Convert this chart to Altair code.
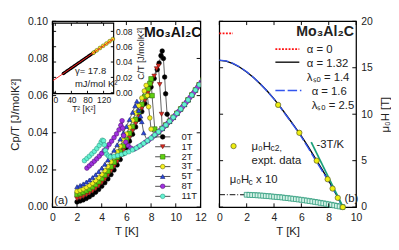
import altair as alt
import pandas as pd

# ---------------- panel (a): Cp/T vs T ----------------
FIELDS = ["0T", "1T", "2T", "3T", "5T", "8T", "11T"]
FILLS = ["#000000", "#e02a20", "#5fd010", "#f4f020", "#2a48e0", "#a030e0", "#64f2d2"]
STROKES = ["#000000", "#6a1410", "#2f6a08", "#6a6a10", "#14206a", "#501470", "#2a9a80"]
SHAPES = ["circle", "triangle-down", "square", "circle", "triangle-up", "circle", "circle"]

T_0T = [2.00, 2.25, 2.50, 2.75, 3.00, 3.25, 3.50, 3.75, 4.00, 4.25, 4.50, 4.75, 5.00, 5.25,
        5.50, 5.75, 6.00, 6.25, 6.50, 6.75, 7.00, 7.25, 7.50, 7.75, 8.00, 8.25, 8.50,
        8.65, 8.80, 8.90, 9.00, 9.10, 9.18, 9.30]
C_0T = [0.0028, 0.0033, 0.0039, 0.0047, 0.0056, 0.0067, 0.0080, 0.0095, 0.0112, 0.0131,
        0.0152, 0.0175, 0.0200, 0.0227, 0.0256, 0.0287, 0.0320, 0.0355, 0.0392, 0.0431,
        0.0472, 0.0514, 0.0557, 0.0601, 0.0646, 0.0692, 0.0740,
        0.0775, 0.0815, 0.0840, 0.0800, 0.0700, 0.0610, 0.0500]
T_1T = [2.00, 2.25, 2.50, 2.75, 3.00, 3.25, 3.50, 3.75, 4.00, 4.25, 4.50, 4.75, 5.00, 5.25,
        5.50, 5.75, 6.00, 6.25, 6.50, 6.75, 7.00, 7.25, 7.50, 7.75, 8.00, 8.25,
        8.45, 8.60, 8.70, 8.85]
C_1T = [0.0045, 0.0050, 0.0057, 0.0065, 0.0075, 0.0086, 0.0099, 0.0114, 0.0131, 0.0150,
        0.0171, 0.0194, 0.0219, 0.0246, 0.0275, 0.0306, 0.0339, 0.0374, 0.0411, 0.0450,
        0.0490, 0.0531, 0.0573, 0.0616, 0.0660, 0.0705,
        0.0745, 0.0760, 0.0660, 0.0500]
T_2T = [2.00, 2.25, 2.50, 2.75, 3.00, 3.25, 3.50, 3.75, 4.00, 4.25, 4.50, 4.75, 5.00, 5.25,
        5.50, 5.75, 6.00, 6.25, 6.50, 6.75, 7.00, 7.25, 7.50, 7.75,
        7.90, 8.00, 8.08, 8.30]
C_2T = [0.0068, 0.0073, 0.0080, 0.0088, 0.0098, 0.0109, 0.0122, 0.0137, 0.0154, 0.0173,
        0.0194, 0.0217, 0.0242, 0.0269, 0.0298, 0.0329, 0.0362, 0.0397, 0.0434, 0.0472,
        0.0512, 0.0553, 0.0595, 0.0637,
        0.0665, 0.0690, 0.0600, 0.0420]
T_3T = [2.00, 2.25, 2.50, 2.75, 3.00, 3.25, 3.50, 3.75, 4.00, 4.25, 4.50, 4.75, 5.00, 5.25,
        5.50, 5.75, 6.00, 6.25, 6.50, 6.75, 7.00, 7.25,
        7.45, 7.60, 7.70, 7.80, 7.90, 8.00]
C_3T = [0.0085, 0.0091, 0.0098, 0.0107, 0.0117, 0.0129, 0.0143, 0.0159, 0.0177, 0.0197,
        0.0219, 0.0243, 0.0269, 0.0297, 0.0327, 0.0359, 0.0393, 0.0429, 0.0467, 0.0506,
        0.0546, 0.0587,
        0.0625, 0.0655, 0.0600, 0.0540, 0.0480, 0.0420]
T_5T = [2.00, 2.25, 2.50, 2.75, 3.00, 3.25, 3.50, 3.75, 4.00, 4.25, 4.50, 4.75, 5.00, 5.25,
        5.50, 5.75, 6.00, 6.25, 6.50,
        6.70, 6.85, 7.00, 7.15, 7.25, 7.40]
C_5T = [0.0110, 0.0117, 0.0125, 0.0135, 0.0146, 0.0159, 0.0174, 0.0191, 0.0210, 0.0231,
        0.0254, 0.0279, 0.0306, 0.0335, 0.0366, 0.0399, 0.0434, 0.0471, 0.0510,
        0.0545, 0.0570, 0.0520, 0.0490, 0.0460, 0.0400]
T_8T = [2.80, 3.00, 3.20, 3.40, 3.60, 3.80, 4.00, 4.20, 4.40, 4.60, 4.80, 5.00, 5.20, 5.40,
        5.55, 5.65, 5.70, 5.78, 5.95, 6.15, 6.35]
C_8T = [0.0210, 0.0222, 0.0234, 0.0247, 0.0260, 0.0274, 0.0289, 0.0304, 0.0320, 0.0337,
        0.0355, 0.0374, 0.0394, 0.0416,
        0.0440, 0.0465, 0.0425, 0.0385, 0.0350, 0.0330, 0.0318]
T_11T = [2.60, 2.80, 3.00, 3.20, 3.40, 3.60, 3.80, 3.95, 4.05, 4.15, 4.22, 4.30, 4.40, 4.55]
C_11T = [0.0250, 0.0262, 0.0274, 0.0287, 0.0300, 0.0315, 0.0332, 0.0350, 0.0360, 0.0357,
         0.0335, 0.0305, 0.0285, 0.0275]

# normal-state points (shared by the fields above their Tc)
NORM_T = [4.7, 5.0, 5.3, 5.6, 5.9, 6.2, 6.5, 6.8, 7.1, 7.4, 7.7, 8.0, 8.3, 8.6, 8.9, 9.2,
          9.5, 9.8, 10.1, 10.4, 10.7, 11.0, 11.3, 11.6, 11.9, 12.2]
NORM_C = [0.0270, 0.0273, 0.0278, 0.0283, 0.0290, 0.0298, 0.0308, 0.0318, 0.0330, 0.0343,
          0.0357, 0.0372, 0.0388, 0.0405, 0.0423, 0.0442, 0.0462, 0.0483, 0.0505, 0.0528,
          0.0552, 0.0577, 0.0603, 0.0630, 0.0658, 0.0687]
NORM8_T = [6.65, 6.95, 7.25, 7.55, 7.85, 8.15, 8.45, 8.75, 9.05, 9.35, 9.65, 9.95, 10.25,
           10.55, 10.85, 11.15, 11.45, 11.75, 12.05, 12.35]
NORM8_C = [0.0313, 0.0324, 0.0336, 0.0350, 0.0364, 0.0380, 0.0396, 0.0414, 0.0432, 0.0452,
           0.0472, 0.0494, 0.0516, 0.0540, 0.0564, 0.0590, 0.0616, 0.0644, 0.0672, 0.0701]
NORM_FROM = {"0T": 9.5, "1T": 8.9, "2T": 8.6, "3T": 8.3, "5T": 7.7, "11T": 4.7}

# inset: C/T vs T^2
INSET_T2_B = [20, 23, 26, 29, 32, 35, 38, 41, 44, 47, 50, 53, 56, 59, 62, 65, 68, 71, 74,
              77, 80, 83, 86, 89, 92, 95, 98]
INSET_CT_B = [0.0250, 0.0261, 0.0272, 0.0283, 0.0294, 0.0305, 0.0316, 0.0326, 0.0337,
              0.0348, 0.0359, 0.0370, 0.0381, 0.0392, 0.0402, 0.0413, 0.0424, 0.0435,
              0.0446, 0.0457, 0.0468, 0.0478, 0.0489, 0.0500, 0.0511, 0.0522, 0.0533]
INSET_T2_Y = [95, 103, 111, 119, 127, 135, 143]
INSET_CT_Y = [0.0522, 0.0553, 0.0583, 0.0612, 0.0641, 0.0671, 0.0700]
FIT_T2 = [-5, 145]
FIT_CT = [0.0160, 0.0703]

# ---------------- panel (b): critical fields ----------------
HC2_T = [9.03, 8.66, 8.28, 7.92, 7.12, 5.85, 4.30]
HC2_H = [0, 1, 2, 3, 5, 8, 11]
THEORY_T = [0, 0.5, 1.0, 1.5, 2.0, 2.5, 3.0, 3.5, 4.0, 4.5, 5.0, 5.5, 6.0, 6.5, 7.0, 7.5,
            8.0, 8.5, 9.0, 9.04]
THEORY_A132 = [15.8, 15.72, 15.45, 15.05, 14.55, 13.95, 13.25, 12.5, 11.65, 10.7, 9.7, 8.7,
               7.65, 6.5, 5.3, 4.1, 2.85, 1.5, 0.1, 0.0]
THEORY_A16 = [15.82, 15.74, 15.48, 15.08, 14.57, 13.96, 13.25, 12.48, 11.62, 10.66, 9.65,
              8.63, 7.56, 6.38, 5.15, 3.95, 2.75, 1.45, 0.08, 0.0]
ALPHA0_T = [0.0, 1.0]
ALPHA0_H = [18.7, 18.7]
SLOPE_T = [6.72, 9.05]
SLOPE_H = [7.0, 0.0]
HC_T = [2.0, 2.2, 2.4, 2.6, 2.8, 3.0, 3.2, 3.4, 3.6, 3.8, 4.0, 4.2, 4.4, 4.6, 4.8, 5.0, 5.2,
        5.4, 5.6, 5.8, 6.0, 6.2, 6.4, 6.6, 6.8, 7.0, 7.2, 7.4, 7.6, 7.8, 8.0, 8.2, 8.4, 8.6,
        8.8, 9.0]
HC_H = [1.33, 1.32, 1.30, 1.29, 1.27, 1.25, 1.23, 1.20, 1.18, 1.15, 1.12, 1.09, 1.07, 1.04,
        1.00, 0.97, 0.93, 0.90, 0.86, 0.82, 0.79, 0.74, 0.70, 0.65, 0.61, 0.56, 0.51, 0.46,
        0.41, 0.36, 0.30, 0.25, 0.19, 0.13, 0.07, 0.01]
HCEXT_T = [0.0, 2.0]
HCEXT_H = [1.34, 1.33]

# ---------------- layout / style ----------------
W1, H1, W2 = 157, 197, 145
FONT = "Liberation Sans"
TXT = "#222222"
TK = 4

SC = {"0T": (T_0T, C_0T), "1T": (T_1T, C_1T), "2T": (T_2T, C_2T), "3T": (T_3T, C_3T),
      "5T": (T_5T, C_5T), "8T": (T_8T, C_8T), "11T": (T_11T, C_11T)}
rows = []
for f in FIELDS:
    T, C = SC[f]
    pts = list(zip(T, C))
    if f == "8T":
        pts += list(zip(NORM8_T, NORM8_C))
    else:
        pts += [(t, c) for t, c in zip(NORM_T, NORM_C) if t >= NORM_FROM[f]]
    for i, (t, c) in enumerate(pts):
        rows.append({"field": f, "T": t, "C": c, "i": i})
df_a = pd.DataFrame(rows)

xa = alt.Scale(domain=[0, 12], nice=False, zero=False)
ya = alt.Scale(domain=[0, 0.10], nice=False)
fill_s = alt.Scale(domain=FIELDS, range=FILLS)
stroke_s = alt.Scale(domain=FIELDS, range=STROKES)
shape_s = alt.Scale(domain=FIELDS, range=SHAPES)

ax_xa = alt.Axis(values=[0, 2, 4, 6, 8, 10, 12], title="T [K]", grid=False, ticks=False,
                 domain=False, labelPadding=5, titlePadding=4, labelFontSize=11,
                 titleFontSize=12, labelFlush=False, labelOverlap=False)
ax_ya = alt.Axis(values=[0, 0.02, 0.04, 0.06, 0.08, 0.10], format=".2f",
                 title="Cp/T [J/molK²]", grid=False, ticks=False, domain=False,
                 labelPadding=5, titlePadding=6, labelFontSize=11, titleFontSize=12)


def XA(f):
    return alt.X(f, scale=xa, axis=ax_xa)


def YA(f):
    return alt.Y(f, scale=ya, axis=ax_ya)


lines_a = alt.Chart(df_a).mark_line(color="#333333", strokeWidth=0.8, clip=True).encode(
    x=XA("T:Q"), y=YA("C:Q"), detail="field:N", order="i:Q")
pts_a = alt.Chart(df_a).mark_point(filled=True, size=24, strokeWidth=0.6, opacity=1,
                                   clip=True).encode(
    x=XA("T:Q"), y=YA("C:Q"),
    fill=alt.Fill("field:N", scale=fill_s, legend=None),
    stroke=alt.Stroke("field:N", scale=stroke_s, legend=None),
    shape=alt.Shape("field:N", scale=shape_s, legend=None))

# manual legend of panel (a)
LEG_Y = [0.0378, 0.0325, 0.0271, 0.0218, 0.0165, 0.0112, 0.0058]
leg_line = pd.DataFrame([{"field": f, "T": t, "C": y} for f, y in zip(FIELDS, LEG_Y)
                         for t in (8.33, 9.56)])
leg_pt = pd.DataFrame({"field": FIELDS, "T": [8.94] * 7, "C": LEG_Y})
leg_tx = pd.DataFrame({"field": FIELDS, "T": [10.47] * 7, "C": LEG_Y})
leg_l = alt.Chart(leg_line).mark_line(color="#333333", strokeWidth=0.9).encode(
    x=XA("T:Q"), y=YA("C:Q"), detail="field:N")
leg_p = alt.Chart(leg_pt).mark_point(filled=True, size=24, strokeWidth=0.6, opacity=1).encode(
    x=XA("T:Q"), y=YA("C:Q"),
    fill=alt.Fill("field:N", scale=fill_s, legend=None),
    stroke=alt.Stroke("field:N", scale=stroke_s, legend=None),
    shape=alt.Shape("field:N", scale=shape_s, legend=None))
leg_t = alt.Chart(leg_tx).mark_text(font=FONT, fontSize=10, color=TXT, align="left",
                                    baseline="middle").encode(
    x=XA("T:Q"), y=YA("C:Q"), text="field:N")

title_a = alt.Chart(pd.DataFrame({"T": [7.42], "C": [0.094], "s": ["Mo₃Al₂C"]})).mark_text(
    font=FONT, fontSize=15, fontWeight="bold", color="#111111", align="left",
    baseline="middle").encode(x=XA("T:Q"), y=YA("C:Q"), text="s:N")
lab_a = alt.Chart(pd.DataFrame({"T": [0.15], "C": [0.0035], "s": ["(a)"]})).mark_text(
    font=FONT, fontSize=12, color=TXT, align="left", baseline="middle").encode(
    x=XA("T:Q"), y=YA("C:Q"), text="s:N")


def xticks(vals, X, h):
    d = pd.DataFrame({"T": vals})
    b = alt.Chart(d).mark_rule(color="black", strokeWidth=1).encode(
        x=X("T:Q"), y=alt.value(h), y2=alt.value(h - TK))
    t = alt.Chart(d).mark_rule(color="black", strokeWidth=1).encode(
        x=X("T:Q"), y=alt.value(0), y2=alt.value(TK))
    return [b, t]


def yticks(vals, Y, w, field, x0=0, tk=TK):
    d = pd.DataFrame({field: vals})
    l = alt.Chart(d).mark_rule(color="black", strokeWidth=1).encode(
        y=Y(field + ":Q"), x=alt.value(x0), x2=alt.value(x0 + tk))
    r = alt.Chart(d).mark_rule(color="black", strokeWidth=1).encode(
        y=Y(field + ":Q"), x=alt.value(w - tk), x2=alt.value(w))
    return [l, r]


main_a = alt.layer(lines_a, pts_a, leg_l, leg_p, leg_t, title_a, lab_a,
                   *xticks([0, 2, 4, 6, 8, 10, 12], XA, H1),
                   *yticks([0, 0.02, 0.04, 0.06, 0.08, 0.10], YA, W1, "C"))

# ---- inset ----
IX0, IX1, IYB, IYT = 1, 65, 76.7, 1.9
xi = alt.Scale(domain=[-5, 145], range=[IX0, IX1], nice=False, zero=False)
yi = alt.Scale(domain=[-0.0012, 0.0908], range=[IYB, IYT], nice=False, zero=False)
ax_xi = alt.Axis(orient="bottom", offset=IYB - H1, values=[0, 40, 80, 120], title="T² [K²]",
                 grid=False, ticks=False, domain=False, labelPadding=2, titlePadding=1,
                 labelFontSize=9, titleFontSize=9, labelFlush=False, labelOverlap=False)
ax_yi = alt.Axis(orient="right", offset=IX1 - W1, values=[0, 0.02, 0.04, 0.06, 0.08],
                 format=".2f", title="C/T [J/molK²]", grid=False, ticks=False, domain=False,
                 labelPadding=2, titlePadding=4, labelFontSize=9, titleFontSize=9.5,
                 titleAngle=270, titleBaseline="top", titleY=34, labelOverlap=False)


def XI(f):
    return alt.X(f, scale=xi, axis=ax_xi)


def YI(f):
    return alt.Y(f, scale=yi, axis=ax_yi)


frame_i = alt.Chart(pd.DataFrame({"T2": [-5], "T2e": [145], "CT": [-0.0012],
                                  "CTe": [0.0908]})).mark_rect(
    fill="white", stroke="black", strokeWidth=1.2).encode(
    x=XI("T2:Q"), x2="T2e:Q", y=YI("CT:Q"), y2="CTe:Q")
pts_ib = alt.Chart(pd.DataFrame({"T2": INSET_T2_B, "CT": INSET_CT_B})).mark_circle(
    size=13, color="#000000", opacity=1).encode(x=XI("T2:Q"), y=YI("CT:Q"))
pts_iy = alt.Chart(pd.DataFrame({"T2": INSET_T2_Y, "CT": INSET_CT_Y})).mark_point(
    filled=True, size=16, fill="#f4f020", stroke="#555500", strokeWidth=0.6,
    opacity=1).encode(x=XI("T2:Q"), y=YI("CT:Q"))
fit_i = alt.Chart(pd.DataFrame({"T2": FIT_T2, "CT": FIT_CT})).mark_line(
    color="#ff2020", strokeWidth=1).encode(x=XI("T2:Q"), y=YI("CT:Q"))
txt_i = alt.Chart(pd.DataFrame({"T2": [49, 49], "CT": [0.0275, 0.0108],
                                "s": ["γ= 17.8", "mJ/mol K²"]})).mark_text(
    font=FONT, fontSize=10, color=TXT, align="left", baseline="middle").encode(
    x=XI("T2:Q"), y=YI("CT:Q"), text="s:N")
d_ixt = pd.DataFrame({"T2": [0, 40, 80, 120]})
ixt = [alt.Chart(d_ixt).mark_rule(color="black", strokeWidth=1).encode(
           x=XI("T2:Q"), y=alt.value(IYB), y2=alt.value(IYB - 3)),
       alt.Chart(d_ixt).mark_rule(color="black", strokeWidth=1).encode(
           x=XI("T2:Q"), y=alt.value(IYT), y2=alt.value(IYT + 3))]
d_iyt = pd.DataFrame({"CT": [0, 0.02, 0.04, 0.06, 0.08]})
iyt = [alt.Chart(d_iyt).mark_rule(color="black", strokeWidth=1).encode(
           y=YI("CT:Q"), x=alt.value(IX0), x2=alt.value(IX0 + 3)),
       alt.Chart(d_iyt).mark_rule(color="black", strokeWidth=1).encode(
           y=YI("CT:Q"), x=alt.value(IX1 - 3), x2=alt.value(IX1))]
inset = alt.layer(frame_i, pts_ib, pts_iy, fit_i, txt_i, *ixt, *iyt)

left = alt.layer(main_a, inset).resolve_scale(x="independent", y="independent").properties(
    width=W1, height=H1)

# ---------------- right panel ----------------
xb = alt.Scale(domain=[0, 10], nice=False, zero=False)
yb = alt.Scale(domain=[0, 20], nice=False)
ax_xb = alt.Axis(values=[0, 2, 4, 6, 8, 10], title="T [K]", grid=False, ticks=False,
                 domain=False, labelPadding=5, titlePadding=4, labelFontSize=11,
                 titleFontSize=12, labelFlush=False, labelOverlap=False)
ax_yb = alt.Axis(orient="right", values=[0, 5, 10, 15, 20], title="μ₀H [T]", grid=False,
                 ticks=False, domain=False, labelPadding=5, titlePadding=8, labelFontSize=11,
                 titleFontSize=12, titleAngle=270, titleBaseline="top")


def XB(f):
    return alt.X(f, scale=xb, axis=ax_xb)


def YB(f):
    return alt.Y(f, scale=yb, axis=ax_yb)


def line_b(T, H, color, width, dash=None):
    kw = dict(color=color, strokeWidth=width)
    if dash:
        kw["strokeDash"] = dash
    return alt.Chart(pd.DataFrame({"T": T, "H": H})).mark_line(**kw).encode(
        x=XB("T:Q"), y=YB("H:Q"))


sq_b = alt.Chart(pd.DataFrame({"T": HC_T, "H": HC_H})).mark_square(
    size=26, fill="#d6f3e8", stroke="#2a9a7a", strokeWidth=0.8, opacity=1).encode(
    x=XB("T:Q"), y=YB("H:Q"))
hc2_b = alt.Chart(pd.DataFrame({"T": HC2_T + [1.04], "H": HC2_H + [6.57]})).mark_point(
    filled=True, size=32, fill="#eeee10", stroke="#555522", strokeWidth=0.7,
    opacity=1).encode(x=XB("T:Q"), y=YB("H:Q"))


def text_b(items, size=12, dx=0, dy=0, weight="normal", align="left"):
    d = pd.DataFrame(items, columns=["s", "T", "H"])
    return alt.Chart(d).mark_text(font=FONT, fontSize=size, fontWeight=weight, color=TXT,
                                  align=align, baseline="middle", dx=dx, dy=dy).encode(
        x=XB("T:Q"), y=YB("H:Q"), text="s:N")


texts_b = [
    text_b([("Mo₃Al₂C", 5.63, 18.9)], size=15, weight="bold"),
    text_b([("α = 0", 6.4, 17.0), ("α = 1.32", 6.4, 15.5), ("λₛₒ = 1.4", 6.4, 14.0),
            ("α = 1.6", 6.75, 12.5), ("λₛₒ = 2.5", 6.75, 11.0), ("μ₀H", 2.36, 6.6),
            ("expt. data", 2.36, 5.0), ("-3T/K", 7.1, 6.8), ("μ₀H", 0.76, 2.95),
            ("(b)", 9.15, 1.0)]),
    text_b([("c2,", 2.36, 6.6)], size=9, dx=20, dy=3),
    text_b([("c", 0.76, 2.95)], size=9, dx=20, dy=3),
    text_b([("x 10", 0.76, 2.95)], dx=28),
]

right = alt.layer(
    line_b(THEORY_T, THEORY_A132, "#000000", 1.4),
    line_b(THEORY_T, THEORY_A16, "#3355ee", 1.5, dash=[10, 3]),
    line_b(ALPHA0_T, ALPHA0_H, "#ff1010", 2, dash=[2, 1.5]),
    line_b([4.1, 5.85], [17.0, 17.0], "#ff1010", 2, dash=[2, 1.5]),
    line_b([4.1, 5.85], [15.6, 15.6], "#000000", 1.4),
    line_b([4.1, 6.0], [12.55, 12.55], "#3355ee", 1.5, dash=[10, 3]),
    line_b(HCEXT_T, HCEXT_H, "#000000", 1, dash=[6, 2, 1, 2]),
    sq_b,
    line_b(SLOPE_T, SLOPE_H, "#1aa07a", 1.8),
    hc2_b,
    *texts_b,
    *xticks([0, 2, 4, 6, 8, 10], XB, H1),
    *yticks([0, 5, 10, 15, 20], YB, W2, "H"),
).properties(width=W2, height=H1)

chart = alt.hconcat(left, right, spacing=8).properties(
    padding={"left": 0, "top": 0, "right": 0, "bottom": 0}
).configure_view(stroke="black", strokeWidth=1.3).configure_axis(
    labelFont=FONT, titleFont=FONT, labelColor=TXT, titleColor=TXT,
    titleFontWeight="normal")

chart.save("out.html", embed_options={"renderer": "svg", "actions": False})
